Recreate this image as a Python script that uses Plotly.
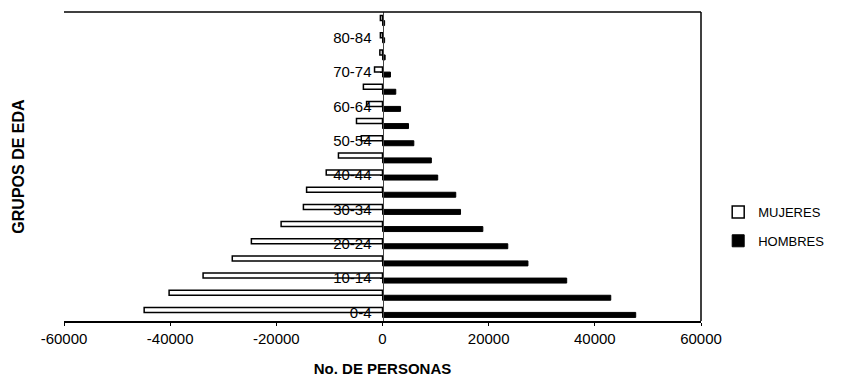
import plotly.graph_objects as go

# Age groups (bottom to top)
age_groups = ["0-4", "5-9", "10-14", "15-19", "20-24", "25-29", "30-34", "35-39",
              "40-44", "45-49", "50-54", "55-59", "60-64", "65-69", "70-74",
              "75-79", "80-84", "85+"]

# Number of people per age group
mujeres = [44900, 40200, 33800, 28300, 24700, 19100, 14900, 14300,
           10600, 8300, 4000, 4900, 3000, 3600, 1500, 500, 400, 400]
hombres = [47700, 43000, 34700, 27400, 23600, 18900, 14700, 13800,
           10400, 9200, 5900, 4900, 3400, 2500, 1500, 500, 400, 400]

# Every other age group is labelled on the axis
y_tick_labels = ["0-4", "10-14", "20-24", "30-34", "40-44",
                 "50-54", "60-64", "70-74", "80-84"]

x_tick_values = [-60000, -40000, -20000, 0, 20000, 40000, 60000]
x_tick_labels = ["-60000", "-40000", "-20000", "0", "20000", "40000", "60000"]

FONT = "Liberation Sans, Arial, sans-serif"

fig = go.Figure()
# Men first so that, within each group, the women's bar sits just above
fig.add_trace(go.Bar(
    y=age_groups, x=hombres, orientation="h", name="HOMBRES",
    legendgroup="h", legendrank=2,
    marker=dict(color="black", line=dict(color="black", width=1)),
))
fig.add_trace(go.Bar(
    y=age_groups, x=[-v for v in mujeres], orientation="h", name="MUJERES",
    legendgroup="m", legendrank=1,
    marker=dict(color="white", line=dict(color="black", width=1.5)),
))

fig.update_layout(
    width=852, height=386,
    margin=dict(l=64, r=151, t=12, b=65),
    paper_bgcolor="white", plot_bgcolor="white",
    barmode="group", bargap=0.42, bargroupgap=0,
    font=dict(family=FONT, color="black", size=14),
    legend=dict(
        x=1.027, y=0.306, xanchor="left", yanchor="middle",
        traceorder="grouped", font=dict(size=13, family=FONT),
        itemwidth=30, tracegroupgap=9, bgcolor="rgba(0,0,0,0)",
    ),
    showlegend=True,
)

fig.update_xaxes(
    range=[-60000, 60000], tickvals=x_tick_values, ticktext=x_tick_labels,
    showgrid=False, zeroline=False,
    showline=True, linecolor="black", linewidth=1.5,
    ticks="outside", ticklen=3, tickcolor="black",
    tickfont=dict(size=15, family=FONT),
    title=dict(text="<b>No. DE PERSONAS</b>", font=dict(size=15, family=FONT), standoff=18),
)

fig.update_yaxes(
    categoryorder="array", categoryarray=age_groups,
    range=[-0.5, len(age_groups) - 0.5],
    tickmode="array", tickvals=y_tick_labels, ticktext=y_tick_labels,
    anchor="free", position=0.5,
    showgrid=False, zeroline=False,
    showline=True, linecolor="#444", linewidth=1,
    ticks="outside", ticklen=3, tickcolor="black", ticklabelstandoff=5,
    tickfont=dict(size=15, family=FONT),
    title=None,
)

# Vertical axis title sits at the far left of the figure
fig.add_annotation(
    text="<b>GRUPOS DE EDA</b>", xref="paper", yref="paper",
    x=-0.072, y=0.5, xanchor="center", yanchor="middle",
    textangle=-90, showarrow=False, font=dict(size=16, family=FONT),
)

# Frame: top and right edges of the plotting area
fig.add_shape(type="line", xref="paper", yref="paper", x0=0, x1=1, y0=1, y1=1,
              line=dict(color="black", width=1.5))
fig.add_shape(type="line", xref="paper", yref="paper", x0=1, x1=1, y0=0, y1=1,
              line=dict(color="black", width=1.5))

fig.write_html("out.html")
